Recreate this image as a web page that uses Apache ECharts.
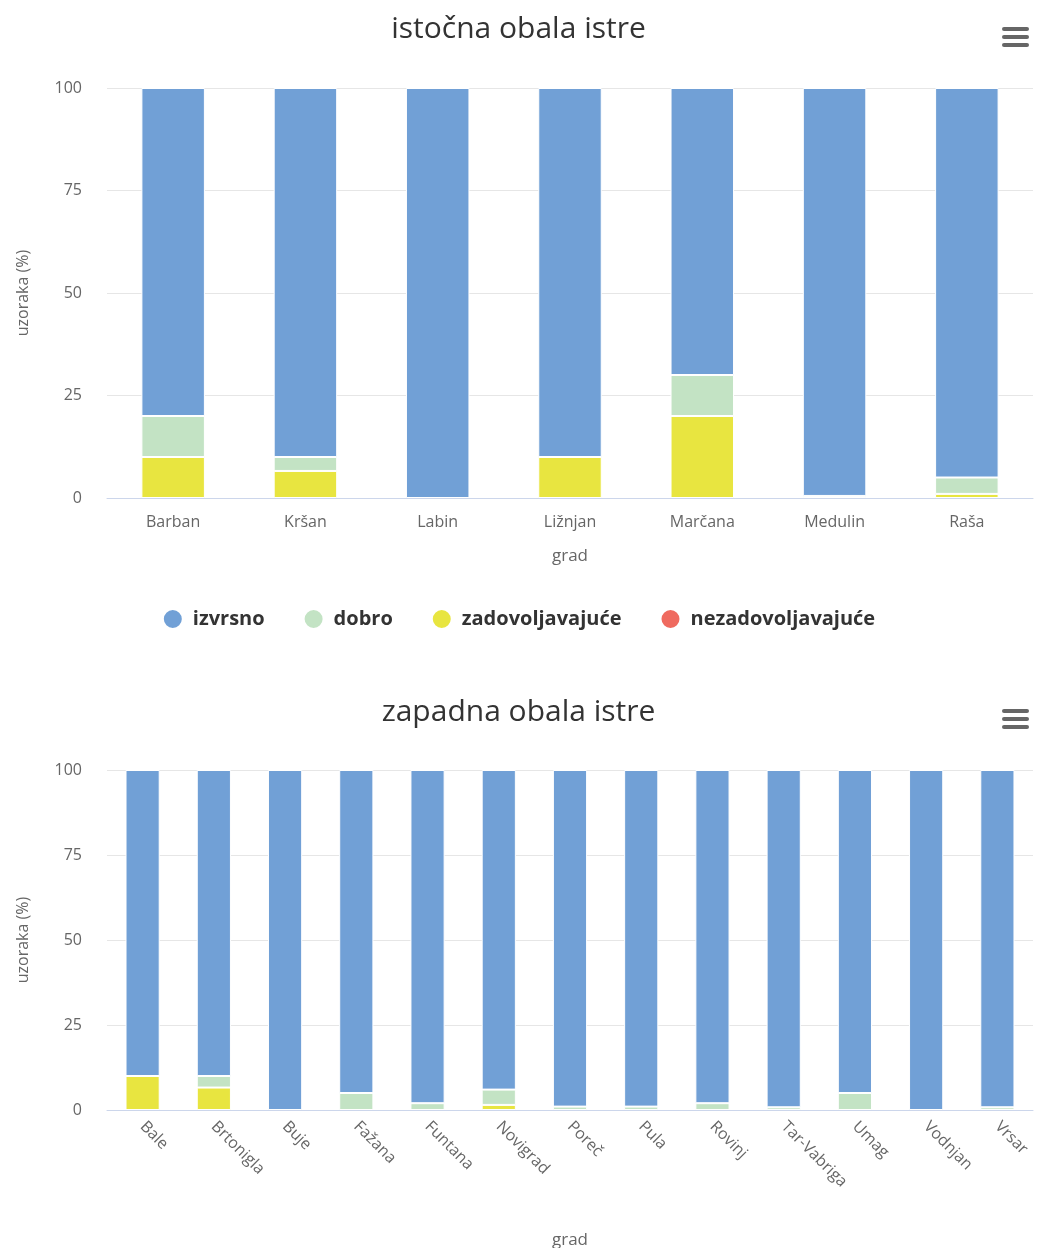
<!DOCTYPE html>
<html><head><meta charset="utf-8">
<script src="https://cdn.jsdelivr.net/npm/echarts@6/dist/echarts.min.js"></script>
<style>html,body{margin:0;padding:0;background:#fff}#c{width:1037px;height:1248px}</style>
</head><body><div id="c"></div>
<script>
const seriesNames = ['izvrsno','dobro','zadovoljavajuće','nezadovoljavajuće'];
const colors = ['#71a0d6','#c3e3c4','#e8e540','#ef6a5f'];

const eastTitle = 'istočna obala istre';
const eastCities = ['Barban','Kršan','Labin','Ližnjan','Marčana','Medulin','Raša'];
const eastIzvrsno = [80, 90, 100, 90, 70, 99.5, 95];
const eastDobro = [10, 3.4, 0, 0, 10, 0.5, 4];
const eastZadov = [10, 6.6, 0, 10, 20, 0, 1];
const eastNezadov = [0, 0, 0, 0, 0, 0, 0];

const westTitle = 'zapadna obala istre';
const westCities = ['Bale','Brtonigla','Buje','Fažana','Funtana','Novigrad','Poreč','Pula','Rovinj','Tar-Vabriga','Umag','Vodnjan','Vrsar'];
const westIzvrsno = [90, 90, 100, 95, 98, 94, 99, 99, 98, 99.2, 95, 100, 99.2];
const westDobro = [0, 3.4, 0, 5, 2, 4.5, 1, 1, 2, 0.8, 5, 0, 0.8];
const westZadov = [10, 6.6, 0, 0, 0, 1.5, 0, 0, 0, 0, 0, 0, 0];
const westNezadov = [0, 0, 0, 0, 0, 0, 0, 0, 0, 0, 0, 0, 0];

const yTicks = [0, 25, 50, 75, 100];
const yName = 'uzoraka (%)';
const xName = 'grad';

const font = '"Open Sans", sans-serif';
const axisLine = '#ccd6eb';

function xAxis(gi, cats, rotate, nameGap, margin) {
  return {
    type: 'category', gridIndex: gi, data: cats,
    name: xName, nameLocation: 'middle', nameGap: nameGap,
    nameTextStyle: {color: '#666', fontSize: 17, fontFamily: font},
    axisLine: {lineStyle: {color: axisLine}},
    axisTick: {length: 11, lineStyle: {color: axisLine}},
    axisLabel: {color: '#666', fontSize: 16, fontFamily: font, margin: margin, rotate: rotate, interval: 0}
  };
}
function yAxis(gi) {
  return {
    type: 'value', gridIndex: gi, min: yTicks[0], max: yTicks[yTicks.length-1], interval: 25,
    name: yName, nameLocation: 'middle', nameGap: 76, nameRotate: 90,
    nameTextStyle: {color: '#666', fontSize: 16, fontFamily: font},
    axisLabel: {color: '#666', fontSize: 16, fontFamily: font, margin: 25},
    splitLine: {lineStyle: {color: '#e6e6e6'}},
    axisLine: {show: false}, axisTick: {show: false}
  };
}
// stacking order bottom -> top: nezadovoljavajuće, zadovoljavajuće, dobro, izvrsno
function mk(gi, stack, arrs, bw) {
  const order = [3, 2, 1, 0];
  return order.map(i => ({
    name: seriesNames[i], type: 'bar', stack: stack,
    xAxisIndex: gi, yAxisIndex: gi, barWidth: bw,
    data: arrs[i].map(v => v === 0 ? null : v),
    itemStyle: {color: colors[i], borderColor: '#fff', borderWidth: 1},
    emphasis: {disabled: true}
  }));
}
function menu(y) {
  return [0, 8, 16].map(dy => ({
    type: 'rect', left: 1002, top: y + dy,
    shape: {width: 27, height: 4, r: 2}, style: {fill: '#666'}
  }));
}

const chart = echarts.init(document.getElementById('c'));
chart.setOption({
  animation: false,
  title: [
    {text: eastTitle, left: 'center', top: 9, textStyle: {fontSize: 30, fontWeight: 'normal', color: '#333', fontFamily: font}},
    {text: westTitle, left: 'center', top: 692, textStyle: {fontSize: 30, fontWeight: 'normal', color: '#333', fontFamily: font}}
  ],
  legend: {
    data: seriesNames, top: 603, left: 'center', icon: 'circle',
    itemWidth: 30, itemHeight: 20, itemGap: 38,
    textStyle: {fontSize: 20, fontWeight: 'bold', color: '#333', fontFamily: font}
  },
  grid: [
    {left: 107, right: 4, top: 88, height: 410, outerBoundsMode: 'none', containLabel: false},
    {left: 107, right: 4, top: 770, height: 340, outerBoundsMode: 'none', containLabel: false}
  ],
  xAxis: [xAxis(0, eastCities, 0, 50, 16), xAxis(1, westCities, -45, 122, 14)],
  yAxis: [yAxis(0), yAxis(1)],
  graphic: menu(27).concat(menu(709)),
  series: mk(0, 'east', [eastIzvrsno, eastDobro, eastZadov, eastNezadov], '48%')
    .concat(mk(1, 'west', [westIzvrsno, westDobro, westZadov, westNezadov], '48%'))
});
</script></body></html>
